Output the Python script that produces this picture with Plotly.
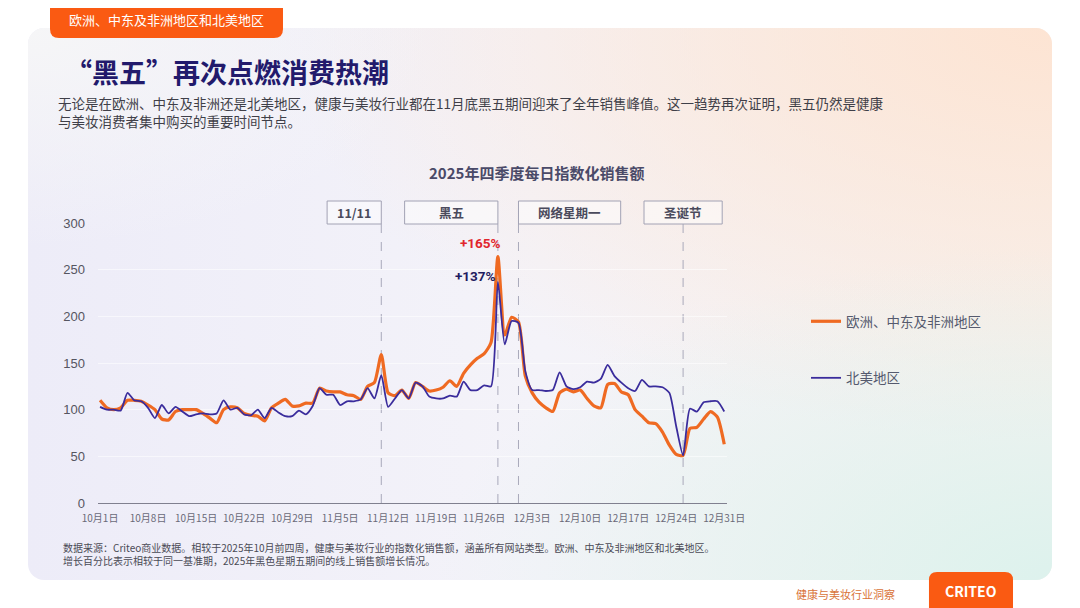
import base64
import pandas as pd
import plotly.graph_objects as go

# daily indexed sales, Q4 2025 (Oct 1 .. Dec 31)
dates = pd.date_range("2025-10-01", "2025-12-31").strftime("%Y-%m-%d").tolist()

emea = [110, 102, 100, 102, 110, 110, 109, 105, 100, 90,
        89, 98, 100, 100, 100, 96, 91, 86, 100, 103,
        102, 96, 94, 93, 88, 102, 107, 111, 104, 104,
        107, 107, 123, 120, 119, 119, 116, 115, 111, 125,
        129, 159, 118, 115, 121, 112, 129, 125, 120, 121,
        124, 131, 125, 139, 148, 155, 160, 172, 264, 180,
        199, 194, 136, 118, 108, 102, 98, 118, 122, 119,
        121, 112, 104, 102, 127, 128, 119, 116, 100, 93,
        86, 85, 76, 62, 52, 51, 80, 81, 90, 98,
        92, 63]

na = [103, 100, 100, 99, 118, 110, 109, 102, 91, 105,
      96, 103, 98, 93, 95, 96, 95, 96, 110, 100,
      102, 95, 94, 100, 91, 102, 97, 93, 93, 99,
      95, 104, 123, 116, 116, 105, 109, 109, 111, 123,
      112, 137, 103, 112, 121, 112, 129, 125, 114, 112,
      112, 115, 114, 130, 121, 121, 126, 125, 237, 170,
      195, 193, 141, 121, 121, 120, 121, 140, 125, 122,
      124, 130, 129, 133, 148, 136, 129, 123, 120, 132,
      125, 125, 124, 118, 82, 51, 101, 98, 108, 109,
      109, 98]

tick_dates = ["2025-10-01", "2025-10-08", "2025-10-15", "2025-10-22", "2025-10-29",
              "2025-11-05", "2025-11-12", "2025-11-19", "2025-11-26", "2025-12-03",
              "2025-12-10", "2025-12-17", "2025-12-24", "2025-12-31"]
tick_text = ["10月1日", "10月8日", "10月15日", "10月22日", "10月29日", "11月5日", "11月12日",
             "11月19日", "11月26日", "12月3日", "12月10日", "12月17日", "12月24日", "12月31日"]

events = ["11/11", "黑五", "网络星期一", "圣诞节"]
event_dates = ["2025-11-11", "2025-11-28", "2025-12-01", "2025-12-25"]

FONT = "Noto Sans CJK SC"
ORANGE = "#ef6a22"
INDIGO = "#3a2c9c"

# page pixels (as seen in the browser window); the html body adds an 8px margin
OFF = 8
W, H = 1080 - OFF, 608 - OFF
L, R, T, B = 98, 727, 223, 503


def px(x):
    return (x - L) / (R - L)


def py(y):
    return (B - y) / (B - T)


def day(d, off=0.0):
    return (pd.Timestamp(d) + pd.Timedelta(days=off)).strftime("%Y-%m-%d %H:%M")


def rounded(x0, y0, x1, y1, r, top=True, bottom=True):
    pts = []
    if top:
        pts += [("M", x0, y0 + r), ("Q", x0, y0, x0 + r, y0), ("L", x1 - r, y0), ("Q", x1, y0, x1, y0 + r)]
    else:
        pts += [("M", x0, y0), ("L", x1, y0)]
    if bottom:
        pts += [("L", x1, y1 - r), ("Q", x1, y1, x1 - r, y1), ("L", x0 + r, y1), ("Q", x0, y1, x0, y1 - r)]
    else:
        pts += [("L", x1, y1), ("L", x0, y1)]
    s = ""
    for p in pts:
        c = p[1:]
        xy = [f"{px(c[i]):.4f},{py(c[i + 1]):.4f}" for i in range(0, len(c), 2)]
        s += p[0] + " " + " ".join(xy) + " "
    return s + "Z"


svg = """<svg xmlns='http://www.w3.org/2000/svg' width='1024' height='552' viewBox='0 0 1024 552' preserveAspectRatio='none'>
<defs>
<linearGradient id='a' x1='0' y1='0' x2='1' y2='0'>
<stop offset='0' stop-color='#edecf8'/><stop offset='0.5' stop-color='#f4f3f9'/><stop offset='1' stop-color='#f6f2f0'/></linearGradient>
<radialGradient id='b' cx='1' cy='0' r='0.75'>
<stop offset='0' stop-color='#fde4d3' stop-opacity='1'/><stop offset='1' stop-color='#fde4d3' stop-opacity='0'/></radialGradient>
<radialGradient id='c' cx='1' cy='1' r='0.6'>
<stop offset='0' stop-color='#ddf2ed' stop-opacity='1'/><stop offset='1' stop-color='#ddf2ed' stop-opacity='0'/></radialGradient>
<radialGradient id='d' cx='0' cy='0' r='0.4'>
<stop offset='0' stop-color='#f6f6f7' stop-opacity='1'/><stop offset='1' stop-color='#f6f6f7' stop-opacity='0'/></radialGradient>
</defs>
<rect width='1024' height='552' rx='16' fill='url(#a)'/>
<rect width='1024' height='552' rx='16' fill='url(#b)'/>
<rect width='1024' height='552' rx='16' fill='url(#c)'/>
<rect width='1024' height='552' rx='16' fill='url(#d)'/>
</svg>"""
svg_src = "data:image/svg+xml;base64," + base64.b64encode(svg.encode()).decode()

fig = go.Figure()
fig.add_trace(go.Scatter(x=dates, y=emea, name="欧洲、中东及非洲地区", legendgroup="a",
                         mode="lines", line=dict(color=ORANGE, width=3.2, shape="spline", smoothing=0.6)))
fig.add_trace(go.Scatter(x=dates, y=na, name="北美地区", legendgroup="b",
                         mode="lines", line=dict(color=INDIGO, width=1.8, shape="spline", smoothing=0.6)))

shapes = []
annotations = []

# event markers: dashed line + labelled box
box_span = [(-7.9, 0), (-13.6, 0), (0, 14.9), (-5.7, 5.7)]
for name, d, (a, b) in zip(events, event_dates, box_span):
    shapes.append(dict(type="line", xref="x", yref="paper", x0=d, x1=d, y0=0, y1=1,
                       line=dict(color="#a9a9bb", width=1, dash="dash"), layer="below"))
    shapes.append(dict(type="rect", xref="x", yref="paper", x0=day(d, a), x1=day(d, b),
                       y0=py(224), y1=py(201), fillcolor="rgba(255,255,255,0.45)",
                       line=dict(color="#a2a2b4", width=1)))
    annotations.append(dict(xref="x", yref="paper", x=day(d, (a + b) / 2), y=py(212.5),
                            xanchor="center", yanchor="middle",
                            text=f"<b>{name}</b>", showarrow=False,
                            font=dict(family=FONT, size=12.5, color="#4a4a5c")))

# header tab and logo box
shapes.append(dict(type="path", xref="paper", yref="paper", path=rounded(50, -20, 283, 38, 9, top=False),
                   fillcolor="#fa5a12", line=dict(width=0)))
shapes.append(dict(type="path", xref="paper", yref="paper", path=rounded(929, 572, 1013, 620, 8, bottom=False),
                   fillcolor="#fa5a12", line=dict(width=0)))

# peak labels
annotations.append(dict(x=day("2025-11-28", -2.6), y=279, text="<b>+165%</b>", showarrow=False,
                        font=dict(family="Roboto", size=13.5, color="#e1262d")))
annotations.append(dict(x=day("2025-11-28", -3.2), y=243, text="<b>+137%</b>", showarrow=False,
                        font=dict(family="Roboto", size=13.5, color="#1f1b60")))

texts = [
    (166, 20, "欧洲、中东及非洲地区和北美地区", 13, "#ffffff", "center", False),
    (63, 72, "“黑五”再次点燃消费热潮", 27, "#221a6c", "left", True),
    (56, 103.5, "无论是在欧洲、中东及非洲还是北美地区，健康与美妆行业都在11月底黑五期间迎来了全年销售峰值。这一趋势再次证明，黑五仍然是健康",
     13.5, "#3f3f48", "left", False),
    (56, 121.5, "与美妆消费者集中购买的重要时间节点。", 13.5, "#3f3f48", "left", False),
    (536, 172, "2025年四季度每日指数化销售额", 15, "#4a4a68", "center", True),
    (61, 553.5, "数据来源：Criteo商业数据。相较于2025年10月前四周，健康与美妆行业的指数化销售额，涵盖所有网站类型。欧洲、中东及非洲地区和北美地区。"
     "<br>增长百分比表示相较于同一基准期，2025年黑色星期五期间的线上销售额增长情况。", 10, "#4a4a55", "left", False),
    (845, 594, "健康与美妆行业洞察", 11, "#d9733a", "center", False),
    (971, 591, "CRITEO", 14, "#ffffff", "center", True),
]
for x, y, t, s, c, al, bold in texts:
    annotations.append(dict(xref="paper", yref="paper", x=px(x), y=py(y), xanchor=al, yanchor="middle",
                            align="left", text=f"<b>{t}</b>" if bold else t, showarrow=False,
                            font=dict(family=FONT, size=s, color=c)))

fig.update_layout(
    width=W, height=H,
    margin=dict(l=L - OFF, r=W - (R - OFF), t=T - OFF, b=H - (B - OFF)),
    paper_bgcolor="#ffffff", plot_bgcolor="rgba(0,0,0,0)",
    font=dict(family=FONT, color="#555560"),
    shapes=shapes, annotations=annotations,
    images=[dict(source=svg_src, xref="paper", yref="paper", x=px(28), y=py(28),
                 sizex=(1052 - 28) / (R - L), sizey=(580 - 28) / (B - T),
                 xanchor="left", yanchor="top", sizing="stretch", layer="below")],
    legend=dict(xref="container", yref="container", x=(806 - OFF) / W, y=1 - (350 - OFF) / H,
                xanchor="left", yanchor="middle", traceorder="grouped", tracegroupgap=36,
                itemwidth=30, bgcolor="rgba(0,0,0,0)",
                font=dict(family=FONT, size=13.5, color="#555a6e")),
    xaxis=dict(type="date", range=[day("2025-10-01", -0.3), day("2025-10-01", 91.4)],
               tickvals=tick_dates, ticktext=tick_text, showgrid=False, zeroline=False,
               showline=True, linecolor="#80808f", linewidth=1.2, ticks="",
               ticklabelstandoff=6, tickfont=dict(family=FONT, size=10, color="#6a6a78")),
    yaxis=dict(range=[0, 300], tickvals=[0, 50, 100, 150, 200, 250, 300], showgrid=True,
               gridcolor="rgba(255,255,255,0.55)", zeroline=False, showline=False, ticks="",
               ticklabelstandoff=12, tickfont=dict(family="Liberation Sans", size=13, color="#555560")),
)

fig.write_html("out.html")
